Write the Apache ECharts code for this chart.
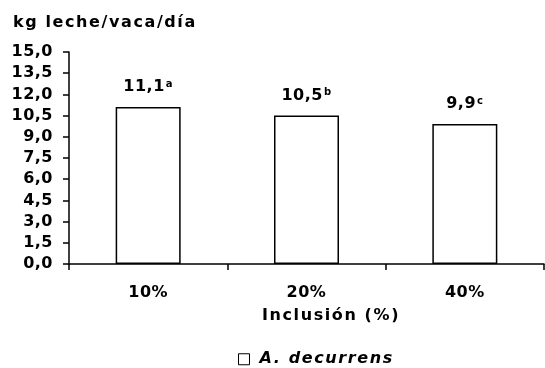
<!DOCTYPE html>
<html>
<head>
<meta charset="utf-8">
<script src="https://cdn.jsdelivr.net/npm/echarts@6/dist/echarts.min.js"></script>
<style>
html,body{margin:0;padding:0;background:#fff;}
#c{width:545px;height:368px;}
</style>
</head>
<body>
<div id="c"></div>
<script>
// ---- data ----
var categories = ['10%', '20%', '40%'];
var values = [11.1, 10.5, 9.9];
var valueLabels = ['11,1', '10,5', '9,9'];
var letters = ['a', 'b', 'c'];
var seriesName = 'A. decurrens';
var yTitle = 'kg leche/vaca/día';
var xTitle = 'Inclusión (%)';
var yMin = 0, yMax = 15, yStep = 1.5;

// slightly spaced lettering like the reference's text
(function () {
  function ls(t) { return /[A-Za-zíó]{2,}/.test(String(t)) ? '1.6px' : '0.5px'; }
  var P = CanvasRenderingContext2D.prototype;
  var ft = P.fillText, mt = P.measureText;
  P.fillText = function (t) { try { this.letterSpacing = ls(t); } catch (e) {} return ft.apply(this, arguments); };
  P.measureText = function (t) { try { this.letterSpacing = ls(t); } catch (e) {} return mt.apply(this, arguments); };
})();

var FONT = "'DejaVu Sans', 'Liberation Sans', Arial, sans-serif";
var chart = echarts.init(document.getElementById('c'), null, { renderer: 'canvas' });

var data = values.map(function (v, i) {
  return { value: v, label: { formatter: '{v|' + valueLabels[i] + '}{s|' + letters[i] + '}' } };
});

chart.setOption({
  animation: false,
  backgroundColor: '#ffffff',
  textStyle: { fontFamily: FONT },
  title: [
    { text: yTitle, left: 13, top: 15, padding: 0,
      textStyle: { fontFamily: FONT, fontSize: 16, fontWeight: 'bold', color: '#000' } },
    { text: xTitle, left: 331, textAlign: 'center', top: 308, padding: 0,
      textStyle: { fontFamily: FONT, fontSize: 16, fontWeight: 'bold', color: '#000' } }
  ],
  legend: {
    left: 238, top: 351, padding: 0,
    itemWidth: 11, itemHeight: 11, itemGap: 10,
    icon: 'rect',
    data: [{ name: seriesName, itemStyle: { color: '#fff', borderColor: '#000', borderWidth: 1 } }],
    textStyle: { fontFamily: FONT, fontSize: 16, fontWeight: 'bold', fontStyle: 'italic', color: '#000', padding: [0, 0, 0, 5] }
  },
  grid: { left: 69, right: 1, top: 52, bottom: 104, containLabel: false },
  xAxis: {
    type: 'category',
    data: categories,
    axisLine: { show: true, lineStyle: { color: '#000', width: 1.5 } },
    axisTick: { show: true, length: 6, lineStyle: { color: '#000', width: 1.5 } },
    axisLabel: { margin: 21, fontFamily: FONT, fontSize: 16, fontWeight: 'bold', color: '#000' },
    splitLine: { show: false }
  },
  yAxis: {
    type: 'value',
    min: yMin, max: yMax, interval: yStep,
    axisLine: { show: true, lineStyle: { color: '#000', width: 1.5 } },
    axisTick: { show: true, length: 6, lineStyle: { color: '#000', width: 1.5 } },
    axisLabel: {
      margin: 16, fontFamily: FONT, fontSize: 16, fontWeight: 'bold', color: '#000',
      formatter: function (v) { return v.toFixed(1).replace('.', ','); }
    },
    splitLine: { show: false }
  },
  series: [{
    name: seriesName,
    type: 'bar',
    barWidth: 65,
    data: data,
    itemStyle: { color: '#fff', borderColor: '#000', borderWidth: 1.5 },
    label: {
      show: true, position: 'top', distance: 11,
      rich: {
        v: { fontFamily: FONT, fontSize: 16, fontWeight: 'bold', color: '#000', lineHeight: 18 },
        s: { fontFamily: FONT, fontSize: 10, fontWeight: 'bold', color: '#000', lineHeight: 10, verticalAlign: 'top', padding: [1, 0, 0, 1] }
      }
    }
  }]
});
</script>
</body>
</html>
